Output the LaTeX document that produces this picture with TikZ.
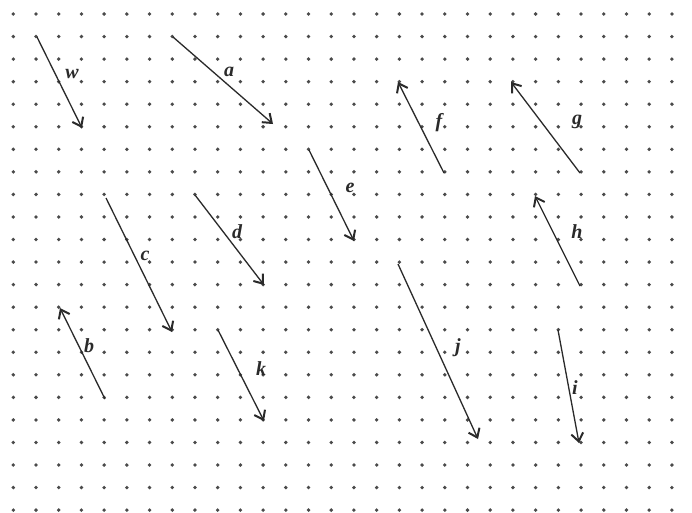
\documentclass[tikz,border=0pt]{standalone}
\usepackage{fontspec}
\setmainfont{Liberation Serif}
\usetikzlibrary{arrows.meta}
\definecolor{dotgray}{HTML}{4A4A4A}
\definecolor{inkgray}{HTML}{2A2A2A}
\tikzset{
  griddot/.style={fill=dotgray},
  vec/.style={draw=inkgray, line width=1.3pt,
    -{Straight Barb[length=8pt,width=12pt,line width=2pt]}},
  vlabel/.style={font=\fontsize{20}{20}\selectfont\bfseries\itshape, text=inkgray, inner sep=0pt}
}
\begin{document}
\begin{tikzpicture}[x=1pt,y=-1pt]
\useasboundingbox (0,0) rectangle (692,512);
\fill[white] (0,0) rectangle (692,512);
% dot grid
\foreach \i in {0,...,29}{
  \foreach \j in {0,...,22}{
    \fill[griddot] ({13.3+22.71*\i},{14+22.55*\j}) circle (1.9);
  }
}
% vector end points
\coordinate (w1) at (37,37);   \coordinate (w2) at (82,128);
\coordinate (a1) at (173,37);  \coordinate (a2) at (273,124);
\coordinate (f1) at (444,173); \coordinate (f2) at (398,82);
\coordinate (g1) at (580,173); \coordinate (g2) at (511,82);
\coordinate (e1) at (309,150); \coordinate (e2) at (354,241);
\coordinate (c1) at (106,198); \coordinate (c2) at (172,332);
\coordinate (d1) at (195,195); \coordinate (d2) at (264,285);
\coordinate (h1) at (580,286); \coordinate (h2) at (535,196);
\coordinate (b1) at (105,399); \coordinate (b2) at (60,308);
\coordinate (j1) at (398,264); \coordinate (j2) at (478,439);
\coordinate (k1) at (218,330); \coordinate (k2) at (264,421);
\coordinate (i1) at (558,330); \coordinate (i2) at (579,443);
% vectors
\draw[vec] (w1) -- (w2);
\draw[vec] (a1) -- (a2);
\draw[vec] (f1) -- (f2);
\draw[vec] (g1) -- (g2);
\draw[vec] (e1) -- (e2);
\draw[vec] (c1) -- (c2);
\draw[vec] (d1) -- (d2);
\draw[vec] (h1) -- (h2);
\draw[vec] (b1) -- (b2);
\draw[vec] (j1) -- (j2);
\draw[vec] (k1) -- (k2);
\draw[vec] (i1) -- (i2);
% labels
\node[vlabel] (lw) at (72,74) {w};
\node[vlabel] (la) at (229,72) {a};
\node[vlabel] (lf) at (439,123) {f};
\node[vlabel] (lg) at (577,122) {g};
\node[vlabel] (le) at (350,188) {e};
\node[vlabel] (ld) at (237,232) {d};
\node[vlabel] (lc) at (145,256) {c};
\node[vlabel] (lh) at (577,232) {h};
\node[vlabel] (lb) at (89,346) {b};
\node[vlabel] (lj) at (458,348) {j};
\node[vlabel] (lk) at (261,369) {k};
\node[vlabel] (li) at (575,388) {i};
\end{tikzpicture}
\end{document}
